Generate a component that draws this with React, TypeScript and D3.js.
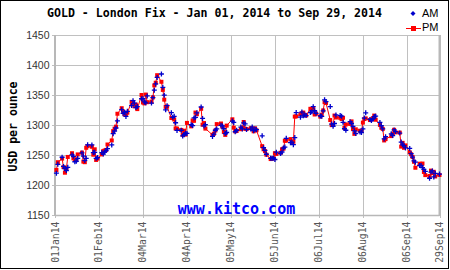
import React from "react";
import * as d3 from "d3";

// Trading days (day of month) for Jan..Sep 2014
const tradingDays: number[][] = [
  [2, 3, 6, 7, 8, 9, 10, 13, 14, 15, 16, 17, 20, 21, 22, 23, 24, 27, 28, 29, 30, 31],
  [3, 4, 5, 6, 7, 10, 11, 12, 13, 14, 17, 18, 19, 20, 21, 24, 25, 26, 27, 28],
  [3, 4, 5, 6, 7, 10, 11, 12, 13, 14, 17, 18, 19, 20, 21, 24, 25, 26, 27, 28, 31],
  [1, 2, 3, 4, 7, 8, 9, 10, 11, 14, 15, 16, 17, 22, 23, 24, 25, 28, 29, 30],
  [1, 2, 6, 7, 8, 9, 12, 13, 14, 15, 16, 19, 20, 21, 22, 23, 27, 28, 29, 30],
  [2, 3, 4, 5, 6, 9, 10, 11, 12, 13, 16, 17, 18, 19, 20, 23, 24, 25, 26, 27, 30],
  [1, 2, 3, 4, 7, 8, 9, 10, 11, 14, 15, 16, 17, 18, 21, 22, 23, 24, 25, 28, 29, 30, 31],
  [1, 4, 5, 6, 7, 8, 11, 12, 13, 14, 15, 18, 19, 20, 21, 22, 26, 27, 28, 29],
  [1, 2, 3, 4, 5, 8, 9, 10, 11, 12, 15, 16, 17, 18, 19, 22, 23, 24, 25, 26, 29],
];

const amFix: number[] = [
  // Jan
  1219.75, 1234.5, 1246.25, 1231, 1227.5, 1224, 1229.5, 1250.25, 1247.75, 1238.75, 1239.5,
  1244.5, 1253.5, 1248, 1240.75, 1244.5, 1267, 1266.75, 1254, 1254.5, 1244.5, 1245.75,
  // Feb
  1254, 1251.5, 1255, 1257.5, 1260.5, 1266.75, 1285.5, 1290, 1295, 1306.75, 1325.5, 1319.5,
  1320.75, 1314.25, 1322.75, 1332.5, 1340.5, 1336.5, 1329, 1330.75,
  // Mar
  1343.75, 1343.75, 1338.5, 1337, 1348.5, 1336.5, 1345.5, 1358, 1368.5, 1379.25, 1385,
  1362.75, 1349.75, 1325.25, 1332.25, 1320.5, 1312.75, 1314.5, 1303.75, 1291, 1291.25,
  // Apr
  1281.75, 1283.75, 1286.25, 1286, 1300.5, 1299, 1311.75, 1312.75, 1320.25, 1330, 1311,
  1298.5, 1300.5, 1281, 1284.75, 1291.25, 1293.5, 1299.5, 1298.5, 1293.75,
  // May
  1285.75, 1287.5, 1306.5, 1304.25, 1288.75, 1291.25, 1296.5, 1293.5, 1303.5, 1301.75,
  1292.5, 1293.25, 1296.5, 1290.5, 1292.75, 1292.25, 1282, 1262.25, 1257.75, 1251.25,
  // Jun
  1244.5, 1244.25, 1245, 1242.5, 1254.75, 1252.5, 1255, 1261.5, 1263.25, 1277.75, 1270.5,
  1271.5, 1267.25, 1279, 1320.75, 1313, 1321.5, 1315.25, 1316.5, 1315.75, 1320.75,
  // Jul
  1322, 1330.5, 1323.75, 1319.5, 1315, 1314.5, 1323.5, 1342, 1339, 1330.75, 1301.5,
  1297.75, 1302.5, 1316.75, 1315.75, 1314.75, 1304.5, 1294, 1291.25, 1305.5, 1302.75,
  1297.5, 1290.25,
  // Aug
  1285.75, 1288.5, 1287.5, 1293.5, 1311.5, 1320.25, 1309.25, 1307.5, 1310, 1314, 1314.75,
  1304.25, 1298.75, 1293.5, 1276.75, 1280.5, 1285.25, 1282.5, 1291.75, 1289,
  // Sep
  1286.5, 1271.5, 1267, 1265.75, 1261.75, 1261, 1252.25, 1246.5, 1240.25, 1238, 1232.5,
  1232.5, 1229, 1226, 1222.75, 1211.25, 1221.5, 1223.5, 1213.5, 1219.25, 1218.25,
];

const pmFix: number[] = [
  // Jan
  1225, 1238, 1244, 1229.75, 1220.5, 1227, 1246.75, 1253, 1244.5, 1242.25, 1242, 1251,
  1254, 1239, 1238, 1262, 1264.75, 1263.75, 1250.5, 1259.5, 1241.75, 1244,
  // Feb
  1251, 1256.5, 1257.5, 1258.5, 1267.5, 1274.25, 1289.75, 1294, 1297.25, 1318.75, 1328,
  1322.5, 1317.75, 1317.5, 1320.5, 1338.5, 1336.75, 1331.25, 1334, 1326.5,
  // Mar
  1350, 1337.5, 1336, 1350.75, 1338, 1339, 1346, 1366, 1370.5, 1383, 1372, 1358.5,
  1342.25, 1330.25, 1330.75, 1311.75, 1311.5, 1309.25, 1294.25, 1294, 1291.75,
  // Apr
  1283.75, 1290.5, 1284, 1303.5, 1297.75, 1307.5, 1307, 1320.75, 1318, 1327, 1300.5,
  1303.25, 1294, 1283.5, 1285.5, 1290.75, 1301.5, 1302.5, 1297, 1288.5,
  // May
  1283.5, 1299, 1309.5, 1295.5, 1289.5, 1290, 1293, 1295.75, 1305, 1293.75, 1293.25,
  1294.75, 1293.75, 1289.5, 1294.5, 1291.25, 1264.75, 1259.5, 1256.5, 1250.5,
  // Jun
  1243.25, 1244, 1244.75, 1253, 1251.75, 1253.75, 1259.5, 1260.5, 1273.75, 1274, 1276.5,
  1270.25, 1272, 1314, 1314.5, 1318, 1319.5, 1320.75, 1317, 1316, 1327,
  // Jul
  1326.5, 1327.25, 1317.5, 1319, 1314, 1317.25, 1324.25, 1338, 1336.75, 1308.25, 1299.75,
  1300, 1315.75, 1312.5, 1312, 1310, 1312, 1295, 1301, 1301.75, 1306, 1293.25, 1285.25,
  // Aug
  1292.75, 1290.5, 1290, 1304, 1310, 1311, 1308.25, 1309.25, 1311.25, 1315.75, 1308.75,
  1300.25, 1295.5, 1293.5, 1274.25, 1276.5, 1281.5, 1285, 1292, 1287.75,
  // Sep
  1287.25, 1264, 1270.25, 1262, 1266, 1254.5, 1251.25, 1246.75, 1238.75, 1228.75, 1235.5,
  1234.5, 1235.75, 1221.75, 1216.5, 1215, 1224, 1219.75, 1222, 1214.25, 1216.75,
];

const tickDates: string[] = [
  "2014-01-01", "2014-02-01", "2014-03-04", "2014-04-04", "2014-05-05",
  "2014-06-05", "2014-07-06", "2014-08-06", "2014-09-06", "2014-09-29",
];
const tickLabels: string[] = [
  "01Jan14", "01Feb14", "04Mar14", "04Apr14", "05May14",
  "05Jun14", "06Jul14", "06Aug14", "06Sep14", "29Sep14",
];
const yTicks: number[] = [1150, 1200, 1250, 1300, 1350, 1400, 1450];

const TITLE = "GOLD - London Fix - Jan 01, 2014 to Sep 29, 2014";

export default function App() {
  const W = 450;
  const H = 270;
  const left = 55;
  const right = 439.5;
  const top = 35;
  const bottom = 215;

  const parse = d3.utcParse("%Y-%m-%d");
  const dates: Date[] = [];
  tradingDays.forEach((days, m) =>
    days.forEach((d) => dates.push(new Date(Date.UTC(2014, m, d))))
  );

  const x = d3
    .scaleUtc()
    .domain([parse(tickDates[0])!, parse(tickDates[tickDates.length - 1])!])
    .range([left, right]);
  const y = d3.scaleLinear().domain([1150, 1450]).range([bottom, top]);

  const pmLine = d3
    .line<number>()
    .x((_, i) => x(dates[i]))
    .y((v) => y(v))(pmFix);

  const mono = "'DejaVu Sans Mono', monospace";
  const sans = "'Liberation Sans', Arial, sans-serif";
  const grid = "#c0c0c0";

  return (
    <svg
      width={W}
      height={H}
      style={{ position: "absolute", left: 0, top: 0, background: "#fff" }}
    >
      <rect x={0} y={0} width={W} height={H} fill="#fff" />
      {/* grid */}
      {tickDates.map((t, i) => {
        const xx = Math.round(x(parse(t)!)) + 0.5;
        return (
          <line key={"vx" + i} x1={xx} x2={xx} y1={top} y2={bottom + 3} stroke={grid} strokeWidth={1} />
        );
      })}
      {yTicks.map((v, i) => {
        const yy = Math.round(y(v)) + 0.5;
        return (
          <line key={"hy" + i} x1={left - 3} x2={right} y1={yy} y2={yy} stroke={grid} strokeWidth={1} />
        );
      })}
      {/* axis frame */}
      <line x1={left} x2={left} y1={top} y2={bottom + 1} stroke="#b8b8b8" strokeWidth={2} />
      <line x1={right} x2={right} y1={top} y2={bottom + 1} stroke="#b8b8b8" strokeWidth={2} />
      <line x1={left} x2={right} y1={bottom + 0.5} y2={bottom + 0.5} stroke="#b8b8b8" strokeWidth={1.5} />

      {/* y tick labels */}
      {yTicks.map((v, i) => (
        <text
          key={"yl" + i}
          x={49.5}
          y={y(v)}
          dy="0.35em"
          textAnchor="end"
          fontFamily={sans}
          fontSize={10.5}
          fill="#333"
        >
          {v}
        </text>
      ))}
      {/* x tick labels */}
      {tickDates.map((t, i) => {
        const xx = x(parse(t)!);
        return (
          <text
            key={"xl" + i}
            transform={`translate(${xx + 3.5},221.5) rotate(-90)`}
            textAnchor="end"
            fontFamily={mono}
            fontSize={9.8}
            fill="#555"
          >
            {tickLabels[i]}
          </text>
        );
      })}

      {/* watermark */}
      <text
        x={236.5}
        y={214}
        textAnchor="middle"
        fontFamily={mono}
        fontWeight="bold"
        fontSize={15}
        fill="#0000ff"
      >
        www.kitco.com
      </text>

      {/* PM series */}
      <path d={pmLine || ""} fill="none" stroke="#ff0000" strokeWidth={1} />
      {pmFix.map((v, i) => (
        <rect
          key={"pm" + i}
          x={x(dates[i]) - 2}
          y={y(v) - 2}
          width={4}
          height={4}
          fill="#ff0000"
        />
      ))}
      {/* AM series */}
      {amFix.map((v, i) => {
        const cx = x(dates[i]);
        const cy = y(v);
        return (
          <path
            key={"am" + i}
            d={`M${cx - 2.5},${cy}h5M${cx},${cy - 2.5}v5`}
            stroke="#0000cc"
            strokeWidth={1.3}
            fill="none"
          />
        );
      })}

      {/* title */}
      <text
        x={214.5}
        y={17}
        textAnchor="middle"
        fontFamily={mono}
        fontWeight="bold"
        fontSize={11.6}
        fill="#000"
      >
        {TITLE}
      </text>

      {/* y axis title */}
      <text
        transform="translate(16.5,126.5) rotate(-90)"
        textAnchor="middle"
        fontFamily={mono}
        fontWeight="bold"
        fontSize={11.5}
        fill="#000"
      >
        USD per ounce
      </text>

      {/* legend */}
      <path d="M410.5,13.5L413,11L415.5,13.5L413,16Z" fill="#0000cc" />
      <text x={422} y={16.5} fontFamily={sans} fontSize={11} fill="#000">
        AM
      </text>
      <line x1={406} x2={421} y1={28.5} y2={28.5} stroke="#ff0000" strokeWidth={1} />
      <rect x={411} y={26} width={5} height={5} fill="#ff0000" />
      <text x={422} y={31} fontFamily={sans} fontSize={11} fill="#000">
        PM
      </text>

      {/* outer border */}
      <rect x={0.5} y={0.5} width={448} height={268} fill="none" stroke="#000" strokeWidth={1} />
    </svg>
  );
}
